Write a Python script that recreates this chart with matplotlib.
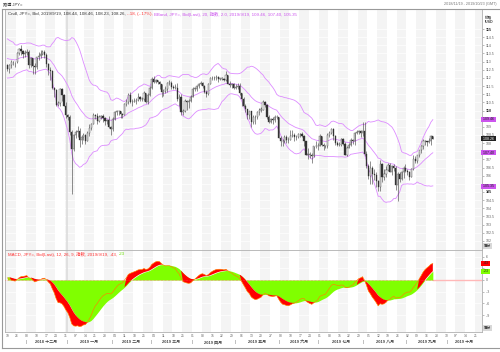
import numpy as np
import pandas as pd
import matplotlib
matplotlib.use("Agg")
import matplotlib.pyplot as plt
from matplotlib.lines import Line2D

FAM = ["Liberation Sans", "Noto Sans CJK SC"]
plt.rcParams["font.family"] = FAM

# ---------------- data ----------------
# closes before the visible window (used only to seed the indicators)
warm_close = [113.93, 113.63, 114.48, 113.93, 113.70, 113.23, 112.95, 112.27, 112.16, 112.21,
              111.77, 112.23, 112.66, 112.19, 112.55, 112.83, 112.44, 112.41, 112.44, 111.88,
              112.41, 113.05, 112.94, 112.71, 113.20, 113.20, 113.44, 113.51, 113.94, 113.83,
              113.84, 113.82, 113.59, 113.61, 112.83]

open_ = [
    # Nov 2018
    112.80, 112.55, 112.80, 112.95, 112.95, 112.95, 113.55, 113.75, 113.65, 113.45,
    # Dec
    113.55, 113.60, 112.80, 113.20, 112.75, 112.65, 113.30, 113.35, 113.45, 113.60, 113.40,
    112.85, 112.50, 112.45, 111.40, 111.25, 110.35, 110.45, 111.35, 110.95, 110.30,
    # Jan 2019
    109.70, 109.60, 108.70, 107.65, 108.50, 108.70, 108.75, 108.20, 108.40, 108.50, 108.15, 108.65,
    108.95, 109.20, 109.75, 109.65, 109.35, 109.60, 109.65, 109.55, 109.35, 109.40, 109.00,
    # Feb
    108.85, 109.50, 109.90, 109.95, 109.95, 109.80, 109.75, 110.40, 110.50, 110.95,
    110.50, 110.50, 110.60, 110.65, 110.85, 110.70, 110.70, 111.05, 110.55, 110.95,
    # Mar
    111.40, 111.95, 111.75, 111.85, 111.75, 111.60, 111.15, 111.20, 111.35, 111.70, 111.70,
    111.45, 111.40, 111.40, 110.70, 110.80, 109.90, 110.00, 110.60, 110.55, 110.60,
    # Apr
    110.85, 111.35, 111.35, 111.50, 111.65, 111.70, 111.50, 111.15, 111.00, 111.65, 112.00,
    112.00, 112.00, 112.05, 111.95, 111.95, 111.95, 111.85, 112.20, 111.65, 111.55, 111.65,
    # May
    111.40, 111.45, 111.50, 111.10, 110.70, 110.30, 110.10, 109.70, 109.95, 109.30, 109.60, 109.60,
    109.90, 110.05, 110.05, 110.50, 110.35, 109.60, 109.30, 109.50, 109.40, 109.60, 109.60,
    # Jun
    108.30, 108.10, 108.15, 108.40, 108.20, 108.20, 108.45, 108.50, 108.35, 108.40,
    108.55, 108.55, 108.45, 108.10, 107.30, 107.30, 107.30, 107.20, 107.80, 107.80,
    # Jul
    107.85, 108.45, 107.90, 107.80, 107.80, 108.50, 108.65, 108.85, 108.45, 108.00, 107.90, 107.90,
    108.25, 107.95, 107.30, 107.70, 107.90, 108.20, 108.15, 108.65, 108.70, 108.75, 108.60,
    # Aug
    108.75, 107.35, 106.60, 106.00, 106.50, 106.10, 106.05, 105.70, 105.30, 106.70, 105.90,
    106.10, 106.35, 106.65, 106.25, 106.60, 106.45, 105.40, 106.10, 105.80, 106.20, 106.50,
    # Sep
    106.30, 106.25, 105.95, 106.40, 107.00, 106.90, 107.25, 107.55, 107.80, 108.10,
    108.10, 108.05, 108.15, 108.44,
]
high = [
    112.85, 112.85, 113.10, 113.05, 113.00, 113.60, 113.85, 114.05, 113.70, 113.70,
    113.80, 113.70, 113.30, 113.25, 112.90, 113.30, 113.60, 113.70, 113.70, 113.70, 113.50,
    112.90, 112.70, 112.50, 111.45, 111.30, 110.60, 111.40, 111.40, 111.00, 110.50,
    109.80, 109.70, 108.80, 108.55, 108.80, 109.05, 108.90, 108.50, 108.60, 108.55, 108.75, 109.15,
    109.25, 109.85, 109.80, 109.85, 109.75, 109.75, 109.80, 109.60, 109.50, 109.65, 109.05,
    109.60, 110.00, 110.05, 110.05, 110.00, 109.85, 110.45, 110.70, 111.10, 111.15,
    110.70, 110.75, 110.75, 111.10, 110.90, 110.80, 111.20, 111.10, 111.05, 111.50,
    112.05, 112.10, 111.95, 111.90, 111.80, 111.60, 111.30, 111.50, 111.75, 111.90, 111.80,
    111.55, 111.60, 111.70, 111.00, 111.00, 110.10, 110.70, 110.65, 110.70, 110.95,
    111.45, 111.45, 111.55, 111.70, 111.80, 111.75, 111.55, 111.25, 111.70, 112.05, 112.10,
    112.10, 112.15, 112.10, 112.00, 112.05, 112.00, 112.40, 112.20, 111.80, 111.70, 111.70,
    111.60, 111.70, 111.70, 111.10, 110.80, 110.40, 110.10, 110.00, 110.00, 109.70, 109.70, 109.95,
    110.15, 110.20, 110.65, 110.60, 110.40, 109.75, 109.55, 109.60, 109.75, 109.75, 109.60,
    108.45, 108.25, 108.50, 108.50, 108.40, 108.80, 108.80, 108.60, 108.50, 108.60,
    108.60, 108.70, 108.50, 108.15, 107.70, 107.45, 107.40, 107.85, 108.15, 108.00,
    108.55, 108.45, 108.00, 107.90, 108.60, 108.75, 108.95, 108.95, 108.50, 108.15, 108.05, 108.30,
    108.30, 108.05, 107.80, 108.00, 108.30, 108.25, 108.70, 108.80, 108.80, 108.80, 109.30,
    109.30, 107.50, 106.70, 106.90, 106.60, 106.40, 106.20, 105.75, 106.95, 106.75, 106.40,
    106.60, 106.75, 106.75, 106.65, 106.70, 106.60, 106.20, 106.20, 106.30, 106.60, 106.70,
    106.40, 106.30, 106.45, 107.25, 107.20, 107.30, 107.60, 107.90, 108.25, 108.20,
    108.15, 108.30, 108.50, 108.46,
]
low = [
    112.40, 112.30, 112.60, 112.80, 112.70, 112.90, 113.40, 113.40, 113.20, 113.30,
    113.40, 112.60, 112.70, 112.25, 112.25, 112.55, 113.10, 113.20, 113.40, 113.25, 112.70,
    112.20, 111.90, 111.30, 110.80, 110.25, 110.30, 110.30, 110.60, 110.25, 109.55,
    109.40, 108.50, 104.90, 107.50, 108.30, 108.40, 107.75, 107.95, 108.20, 107.95, 108.15, 108.45,
    108.80, 109.15, 109.50, 109.20, 109.30, 109.45, 109.30, 109.10, 109.15, 108.90, 108.50,
    108.75, 109.40, 109.70, 109.75, 109.55, 109.55, 109.70, 110.30, 110.40, 110.45,
    110.25, 110.50, 110.40, 110.60, 110.60, 110.60, 110.60, 110.45, 110.40, 110.90,
    111.30, 111.70, 111.70, 111.60, 111.35, 110.80, 110.90, 111.10, 111.15, 111.55, 111.30,
    111.30, 111.30, 110.60, 110.30, 109.75, 109.70, 109.90, 110.05, 110.15, 110.50,
    110.80, 111.20, 111.20, 111.40, 111.55, 111.40, 111.05, 110.85, 110.95, 111.60, 111.90,
    111.85, 111.85, 111.75, 111.90, 111.85, 111.80, 111.80, 111.60, 111.45, 111.40, 111.30,
    111.30, 111.30, 110.95, 110.30, 110.20, 109.90, 109.45, 109.50, 109.00, 109.20, 109.20, 109.50,
    109.70, 109.90, 110.05, 110.20, 109.50, 109.25, 109.25, 109.15, 109.30, 109.45, 108.30,
    107.85, 107.80, 108.00, 108.00, 108.00, 108.20, 108.40, 108.10, 108.20, 108.30,
    108.40, 108.40, 107.80, 107.25, 107.05, 107.10, 106.80, 107.15, 107.70, 107.60,
    107.85, 107.80, 107.55, 107.70, 107.70, 108.40, 108.55, 108.20, 107.90, 107.80, 107.80, 107.85,
    107.90, 107.25, 107.20, 107.70, 107.85, 107.95, 107.90, 108.55, 108.55, 108.40, 108.45,
    107.20, 106.50, 105.80, 105.50, 105.50, 105.75, 105.30, 105.05, 105.05, 105.60, 105.75,
    105.95, 106.30, 106.20, 106.05, 106.30, 105.10, 104.45, 105.60, 105.75, 105.85, 106.20,
    106.05, 105.75, 105.90, 106.35, 106.80, 106.80, 107.15, 107.40, 107.65, 107.90,
    107.80, 108.00, 107.90, 108.23,
]
close = [
    112.55, 112.80, 112.95, 112.95, 112.95, 113.55, 113.75, 113.65, 113.45, 113.55,
    113.60, 112.80, 113.20, 112.75, 112.65, 113.30, 113.35, 113.45, 113.60, 113.40, 112.85,
    112.50, 112.45, 111.40, 111.25, 110.35, 110.45, 111.35, 110.95, 110.30, 109.70,
    109.60, 108.70, 107.65, 108.50, 108.70, 108.75, 108.20, 108.40, 108.50, 108.15, 108.65, 108.95,
    109.20, 109.75, 109.65, 109.35, 109.60, 109.65, 109.55, 109.35, 109.40, 109.00, 108.85,
    109.50, 109.90, 109.95, 109.95, 109.80, 109.75, 110.40, 110.50, 110.95, 110.50,
    110.50, 110.60, 110.65, 110.85, 110.70, 110.70, 111.05, 110.55, 110.95, 111.40,
    111.95, 111.75, 111.85, 111.75, 111.60, 111.15, 111.20, 111.35, 111.70, 111.70, 111.45,
    111.40, 111.40, 110.70, 110.80, 109.90, 110.00, 110.60, 110.55, 110.60, 110.85,
    111.35, 111.35, 111.50, 111.65, 111.70, 111.50, 111.15, 111.00, 111.65, 112.00, 112.00,
    112.00, 112.05, 111.95, 111.95, 111.95, 111.85, 112.20, 111.65, 111.55, 111.65, 111.40,
    111.45, 111.50, 111.10, 110.70, 110.30, 110.10, 109.70, 109.95, 109.30, 109.60, 109.60, 109.90,
    110.05, 110.05, 110.50, 110.35, 109.60, 109.30, 109.50, 109.40, 109.60, 109.60, 108.30,
    108.10, 108.15, 108.40, 108.20, 108.20, 108.45, 108.50, 108.35, 108.40, 108.55,
    108.55, 108.45, 108.10, 107.30, 107.30, 107.30, 107.20, 107.80, 107.80, 107.85,
    108.45, 107.90, 107.80, 107.80, 108.50, 108.65, 108.85, 108.45, 108.00, 107.90, 107.90, 108.25,
    107.95, 107.30, 107.70, 107.90, 108.20, 108.15, 108.65, 108.70, 108.75, 108.60, 108.75,
    107.35, 106.60, 106.00, 106.50, 106.10, 106.05, 105.70, 105.30, 106.70, 105.90, 106.10,
    106.35, 106.65, 106.25, 106.60, 106.45, 105.40, 106.10, 105.80, 106.20, 106.50, 106.30,
    106.25, 105.95, 106.40, 107.00, 106.90, 107.25, 107.55, 107.80, 108.10, 108.10,
    108.05, 108.15, 108.44, 108.26,
]
assert len(open_) == len(high) == len(low) == len(close) == 219

start_date, end_date = "2018-11-19", "2019-10-23"
month_names = ["一月", "二月", "三月", "四月", "五月", "六月",
               "七月", "八月", "九月", "十月", "十一月", "十二月"]
price_ticks = np.arange(102.0, 115.01, 0.5)
macd_ticks = [0.6, 0.3, 0.0, -0.3, -0.6, -0.9]
macd_tick_labels = [".6", "", "0", "-.3", "-.6", "-.9"]
price_tags = [(109.46, "109.46", "#cc55ee", "#222222"),
              (108.26, "108.26", "#222222", "#ffffff"),
              (107.40, "107.40", "#cc55ee", "#222222"),
              (105.35, "105.35", "#cc55ee", "#222222")]

# ---------------- indicators ----------------
days = pd.bdate_range(start_date, end_date)
n = len(close)
xi = np.arange(n)
allc = pd.Series(warm_close + close)
cv = allc.values
mid_all = allc.ewm(span=20, adjust=False).mean().values
sd_all = np.full(len(cv), np.nan)
for t in range(19, len(cv)):
    sd_all[t] = np.sqrt(np.mean((cv[t - 19:t + 1] - mid_all[t]) ** 2))
upper = (mid_all + 2 * sd_all)[-n:]
lower = (mid_all - 2 * sd_all)[-n:]
mid = mid_all[-n:]
ema12 = allc.ewm(span=12, adjust=False).mean()
ema26 = allc.ewm(span=26, adjust=False).mean()
macd_all = ema12 - ema26
sig_all = macd_all.ewm(span=9, adjust=False).mean()
macd = macd_all.values[-n:]
sig = sig_all.values[-n:]

# ---------------- figure ----------------
W, H = 500, 352
fig = plt.figure(figsize=(W / 100, H / 100), dpi=100)
fig.patch.set_facecolor("white")


def px_axes(x0, y0, x1, y1):
    return fig.add_axes([x0 / W, 1 - y1 / H, (x1 - x0) / W, (y1 - y0) / H])


XL = (-1.2, 243.2)
ax = px_axes(5, 9, 482, 250)
ax2 = px_axes(5, 250, 482, 332)

mondays = [i for i, d in enumerate(days) if d.weekday() == 0]
year_break = [i - 0.5 for i in range(1, len(days)) if days[i].year != days[i - 1].year]
for a in (ax, ax2):
    a.set_xlim(*XL)
    a.set_facecolor("white")
    for k, m in enumerate(mondays):
        if k % 2 == 0:
            a.axvspan(m - 0.5, m + 4.5, color="#f4f4f4", lw=0, zorder=0)
    for yb in year_break:
        a.axvline(yb, color="#dcdcdc", lw=1.2, zorder=0.6)
    for s in a.spines.values():
        s.set_color("#b0b0b0")
        s.set_linewidth(0.6)
    a.set_xticks([])
    a.yaxis.tick_right()
    a.tick_params(axis="y", length=1.5, width=0.4, color="#888888", pad=1,
                  labelsize=2.6, labelcolor="#666666")

# price panel
ax.set_ylim(101.44, 116.23)
ax.set_yticks(price_ticks)
tag_vals = [t[0] for t in price_tags]
labels = []
for v in price_ticks:
    hidden = any(abs(v - tv) < 0.2 for tv in tag_vals)
    labels.append("" if hidden else ("%g" % v))
ax.set_yticklabels(labels)
for v, lab in zip(price_ticks, ax.get_yticklabels()):
    if v % 5 == 0:
        lab.set_color("#222222")
        lab.set_fontweight("bold")
for v in price_ticks:
    ax.axhline(v, color="white", lw=0.5, zorder=0.5)

band_c = "#dd8cff"
ax.plot(xi, upper, color=band_c, lw=0.6, zorder=2)
ax.plot(xi, mid, color=band_c, lw=0.6, zorder=2)
ax.plot(xi, lower, color=band_c, lw=0.6, zorder=2)

o = np.array(open_); c = np.array(close)
ax.vlines(xi, low, high, color="#3a3a3a", lw=0.4, zorder=3)
up = c >= o
body = np.maximum(np.abs(c - o), 0.02)
ax.bar(xi[up], body[up], bottom=np.minimum(o, c)[up], width=0.6,
       color="#f4f4f4", edgecolor="#333333", lw=0.25, zorder=4)
ax.bar(xi[~up], body[~up], bottom=np.minimum(o, c)[~up], width=0.6,
       color="#333333", edgecolor="#333333", lw=0.25, zorder=4)

# MACD panel
ax2.set_ylim(-1.333, 0.769)
ax2.set_yticks(macd_ticks)
ax2.set_yticklabels(macd_tick_labels)
for v in macd_ticks:
    ax2.axhline(v, color="white", lw=0.5, zorder=0.5)
ax2.plot([n - 1, XL[1]], [0, 0], color="#ffb8b8", lw=1.0, zorder=1)
ax2.fill_between(xi, 0, sig, color="#80ff00", lw=0, zorder=2)
cond = ((macd > sig) & (macd > 0)) | ((macd < sig) & (macd < 0))
ax2.fill_between(xi, sig, macd, where=cond, interpolate=True, color="#ff0000", lw=0, zorder=3)
ax2.plot(xi, macd, color="#ff8000", lw=0.45, zorder=4)
ax2.plot([XL[0], n - 1], [0, 0], color="#ff5050", lw=0.4, ls=(0, (1, 1.5)), zorder=5)


# ---------------- tags on the right axis ----------------
def tag(a, yv, text, fc, tc):
    a.text(1.0, yv, " " + text + " ", transform=a.get_yaxis_transform(), ha="left", va="center",
           fontsize=2.6, color=tc, bbox=dict(boxstyle="square,pad=0.15", fc=fc, ec="none"),
           clip_on=False, zorder=10)


for tv, tt, fc, tc in price_tags:
    tag(ax, tv, tt, fc, tc)
tag(ax2, macd[-1], ".43", "#ff0000", "#222222")
tag(ax2, sig[-1], ".23", "#80ff00", "#222222")


def px_text(x, y, s, **kw):
    return fig.text(x / W, 1 - y / H, s, **kw)


px_text(484, 246, "百分", fontsize=2.6, color="#333333", va="center", ha="left",
        bbox=dict(boxstyle="square,pad=0.15", fc="#d8d8d8", ec="none"))
px_text(484, 328, "百分", fontsize=2.6, color="#333333", va="center", ha="left",
        bbox=dict(boxstyle="square,pad=0.15", fc="#d8d8d8", ec="none"))
px_text(485, 20, "价格\n/USD", fontsize=2.6, color="#444444", va="center", ha="left",
        fontweight="bold", linespacing=1.1)

# ---------------- header and titles ----------------
px_text(3, 4, "路透 JPY=", fontsize=3, color="#333333", va="center", ha="left")
px_text(497, 4, "2018/11/19 - 2019/10/23 (GMT)", fontsize=2.7, color="#777777",
        va="center", ha="right")
renderer = fig.canvas.get_renderer()


def seg_text(x, y, segs, size):
    for s, col in segs:
        t = px_text(x, y, s, fontsize=size, color=col, va="center", ha="left")
        x += t.get_window_extent(renderer=renderer).width


seg_text(8, 14, [("Cndl, JPY=, Bid, 2019/9/19, 108.44, 108.46, 108.23, 108.26, ", "#333333"),
                 ("-.18, (-.17%), ", "#ff3333"),
                 ("BBand, JPY=, Bid(Last), 20, 指数, 2.0, 2019/9/19, 109.46, 107.40, 105.35", "#cc55ee")],
         3.2)
seg_text(8, 254, [("MACD, JPY=, Bid(Last), 12, 26, 9, 指数, 2019/9/19, .43, ", "#ff3333"),
                  (".23", "#66dd00")], 3.2)

# ---------------- date axis ----------------
def xpx(i):
    return 5 + (i - XL[0]) / (XL[1] - XL[0]) * 477


for i in mondays:
    px_text(xpx(i), 336, "%02d" % days[i].day, fontsize=2.4, color="#666666",
            ha="center", va="center")

months = pd.Series(np.arange(len(days)), index=days)
groups = list(months.groupby([days.year, days.month]))
for (yr, mo), g in groups:
    a_, b_ = g.iloc[0], g.iloc[-1]
    if a_ > 0:
        px_text(xpx(a_ - 0.5), 342, "|", fontsize=2.8, color="#555555", ha="center", va="center")
    if len(g) >= 15:
        px_text(xpx((a_ + b_) / 2), 342, "%d %s" % (yr, month_names[mo - 1]), fontsize=2.9,
                color="#444444", fontweight="bold", ha="center", va="center")

# outer frame
for (x0, y0, x1, y1) in [(2, 9, 499, 9), (2, 9, 2, 348), (2, 348, 499, 348)]:
    fig.add_artist(Line2D([x0 / W, x1 / W], [1 - y0 / H, 1 - y1 / H], color="#999999", lw=0.8))

fig.savefig("out.png", dpi=100, facecolor="white")
